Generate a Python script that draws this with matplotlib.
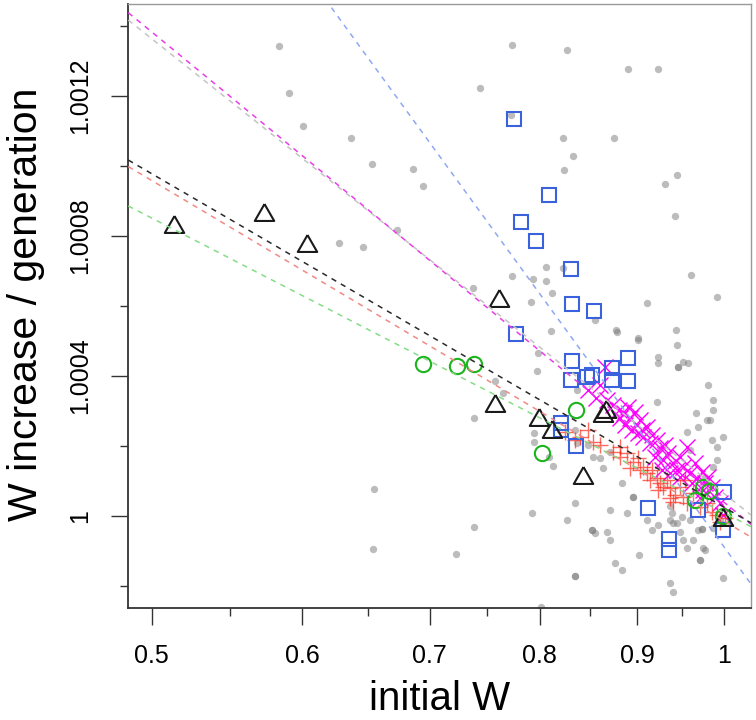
"""Per-generation W increase against initial W, with group fits."""

import numpy as np
import matplotlib

matplotlib.use("Agg")
import matplotlib.pyplot as plt
from matplotlib.ticker import FixedLocator, NullFormatter

plt.rcParams["font.family"] = ["Liberation Sans", "DejaVu Sans"]

# --- data ------------------------------------------------------------------
# background population (grey dots)
gray_w = [0.5834, 0.5905, 0.6004, 0.6365, 0.6532, 0.6864, 0.6943, 0.6732, 0.6273, 0.6458,
          0.7376, 0.7442, 0.7736, 0.8265, 0.8899, 0.9228, 0.7726, 0.8226, 0.8756, 0.8329,
          0.8236, 0.9443, 0.9314, 0.9420, 0.8058, 0.8232, 0.7733, 0.7932, 0.8058, 0.8122,
          0.7913, 0.9608, 0.9912, 0.9113, 0.8557, 0.8110, 0.8774, 0.9435, 0.9014, 0.7980,
          0.7971, 0.7578, 0.7654, 0.7388, 0.7945, 0.7945, 0.8090, 0.8132, 0.8352, 0.7922,
          0.8271, 0.7388, 0.6545, 0.6537, 0.7226, 0.8349, 0.8009, 0.8349, 0.8366, 0.8781,
          0.9014, 0.9443, 0.9235, 0.9235, 0.9462, 0.9519, 0.9577, 0.9812, 0.9217, 0.9871,
          0.9871, 0.9832, 0.9667, 0.9792, 0.9558, 0.9694, 0.9852, 0.9992, 0.9912, 0.9597,
          0.9912, 0.9871, 0.9772, 0.8485, 0.8536, 0.8606, 0.8710, 0.8640, 0.8835, 0.8960,
          0.8889, 0.8710, 0.8520, 0.8554, 0.8675, 0.8710, 0.9107, 0.9161, 0.9235, 0.9367,
          0.9386, 0.9367, 0.9404, 0.9443, 0.9501, 0.9597, 0.9481, 0.9519, 0.9635, 0.9694,
          0.9734, 0.9752, 0.9713, 0.9772, 0.9558, 0.9025, 0.8835, 0.9367, 0.9404, 0.9992,
          0.9871, 0.9952, 0.8763, 0.8366,
          0.8349, 0.9462, 0.8960, 0.8520, 0.9734, 0.9713]
gray_inc = [1.001344, 1.001208, 1.001114, 1.001080, 1.001006, 1.000991, 1.000944, 1.000818,
            1.000781, 1.000769, 1.000651, 1.001223, 1.001345, 1.001331, 1.001276, 1.001276,
            1.001146, 1.001079, 1.001080, 1.001029, 1.000989, 1.000974, 1.000948, 1.000858,
            1.000712, 1.000709, 1.000686, 1.000676, 1.000672, 1.000636, 1.000612, 1.000688,
            1.000625, 1.000609, 1.000560, 1.000529, 1.000531, 1.000531, 1.000508, 1.000465,
            1.000415, 1.000386, 1.000351, 1.000279, 1.000236, 1.000211, 1.000169, 1.000144,
            1.000036, 1.000009, 0.999988, 0.999968, 1.000076, 0.999906, 0.999892, 0.999829,
            0.999740, 1.000246, 1.000208, 1.000527, 1.000503, 1.000489, 1.000455, 1.000436,
            1.000427, 1.000441, 1.000436, 1.000374, 1.000327, 1.000331, 1.000303, 1.000274,
            1.000295, 1.000274, 1.000241, 1.000255, 1.000217, 1.000225, 1.000198, 1.000189,
            1.000160, 1.000141, 1.000112, 1.000203, 1.000169, 1.000165, 1.000184, 1.000136,
            1.000093, 1.000055, 1.000008, 1.000017, 0.999960, 0.999951, 0.999955, 0.999931,
            0.999989, 0.999960, 0.999974, 1.000027, 1.000008, 0.999989, 0.999979, 0.999979,
            0.999998, 0.999989, 0.999955, 0.999931, 0.999931, 0.999960, 0.999962, 0.999908,
            0.999874, 0.999903, 0.999908, 0.999889, 0.999846, 0.999808, 0.999784, 0.999822,
            0.999965, 0.999989, 0.999865, 1.000360,
            0.999829, 1.000427, 1.000055, 0.999960, 0.999962, 0.999874]

# magenta crosses
mag_w = [0.8658, 0.8805, 0.8859, 0.8924, 0.8978, 0.9033, 0.8945, 0.9011, 0.9066, 0.9110,
         0.9143, 0.9220, 0.9254, 0.9310, 0.9198, 0.9287, 0.9344, 0.9401, 0.9481, 0.9447,
         0.9516, 0.9562, 0.9597, 0.9655, 0.9678, 0.9737, 0.9772, 0.9808, 0.9749, 0.9856,
         0.9892, 0.9952, 0.9988, 0.8870, 0.8816, 0.8742, 0.8902, 0.9055, 0.9165, 0.9277,
         0.9367, 0.9481, 0.9620, 0.9713, 0.8480, 0.8565, 0.8606, 0.8679]
mag_inc = [1.000426, 1.000303, 1.000294, 1.000280, 1.000297, 1.000274, 1.000246, 1.000237,
           1.000226, 1.000254, 1.000209, 1.000217, 1.000194, 1.000203, 1.000169, 1.000160,
           1.000180, 1.000151, 1.000169, 1.000131, 1.000140, 1.000197, 1.000123, 1.000151,
           1.000109, 1.000126, 1.000094, 1.000111, 1.000074, 1.000083, 1.000054, 1.000037,
           1.000003, 1.000260, 1.000280, 1.000317, 1.000311, 1.000246, 1.000231, 1.000131,
           1.000123, 1.000111, 1.000094, 1.000051, 1.000360, 1.000337, 1.000374, 1.000331]

# red pluses
red_w = [0.8532, 0.8606, 0.8742, 0.8816, 0.8891, 0.8956, 0.9011, 0.9066, 0.9110, 0.9165,
         0.9220, 0.9254, 0.9287, 0.9231, 0.9333, 0.9367, 0.9424, 0.9401, 0.9481, 0.9516,
         0.9562, 0.9632, 0.9713, 0.9796, 0.9856, 0.9916, 0.9952, 1.0012, 0.8816, 0.9033,
         0.9143, 0.8924, 0.9367, 0.9539, 0.8400, 0.8480, 0.8247, 0.8348]
red_inc = [1.000211, 1.000203, 1.000183, 1.000169, 1.000180, 1.000154, 1.000166, 1.000140,
           1.000123, 1.000131, 1.000109, 1.000094, 1.000083, 1.000074, 1.000103, 1.000080,
           1.000060, 1.000040, 1.000083, 1.000054, 1.000037, 1.000066, 1.000026, 1.000037,
           1.000011, 1.000003, 0.999983, 0.999994, 1.000197, 1.000131, 1.000103, 1.000137,
           1.000051, 1.000103, 1.000226, 1.000246, 1.000240, 1.000217]

# blue squares
blue_w = [0.7755, 0.8090, 0.7818, 0.7964, 0.8309, 0.8319, 0.8540, 0.7773, 0.8316, 0.8305,
          0.8468, 0.8520, 0.8728, 0.8728, 0.8906, 0.8906, 0.8209, 0.8209, 0.8356, 0.9117,
          1.0000, 0.9694, 0.9359, 0.9359, 0.9984]
blue_inc = [1.001134, 1.000916, 1.000841, 1.000787, 1.000705, 1.000605, 1.000586, 1.000519,
            1.000443, 1.000389, 1.000398, 1.000403, 1.000422, 1.000389, 1.000452, 1.000387,
            1.000267, 1.000246, 1.000201, 1.000024, 1.000068, 1.000017, 0.999934, 0.999903,
            0.999960]

# green circles
green_w = [0.6947, 0.7240, 0.7390, 0.8025, 0.8359, 0.9655, 0.9752, 0.9820, 0.9992]
green_inc = [1.000433, 1.000429, 1.000434, 1.000181, 1.000303, 1.000046, 1.000083, 1.000071,
             1.000001]

# black triangles
tri_w = [0.5139, 0.5729, 0.6035, 0.7618, 0.7578, 0.7995, 0.8117, 0.8430, 0.8640, 0.8668,
         0.9992]
tri_inc = [1.000834, 1.000868, 1.000781, 1.000624, 1.000324, 1.000284, 1.000248, 1.000117,
           1.000293, 1.000306, 0.999998]

# fitted lines: increase = intercept + slope * ln(W)
fit_names = ["grey", "magenta", "black", "red", "green", "blue"]
fit_intercept = [1.0000640, 1.0000391, 1.0000249, 0.9999854, 1.0000091, 0.9999114]
fit_slope = [-0.001875, -0.001939, -0.001375, -0.001404, -0.001215, -0.003241]
fit_colors = ["#c4c4c4", "#e83ee8", "#2a2a2a", "#f08a84", "#86dc86", "#8ea8f2"]

x_ticks = [0.5, 0.6, 0.7, 0.8, 0.9, 1.0]
x_tick_labels = ["0.5", "0.6", "0.7", "0.8", "0.9", "1"]
x_minor = [0.55, 0.65, 0.75, 0.85, 0.95]
y_ticks = [1.0, 1.0004, 1.0008, 1.0012]
y_tick_labels = ["1", "1.0004", "1.0008", "1.0012"]
y_minor = [0.9998, 1.0002, 1.0006, 1.0010, 1.0014]

# --- figure ------------------------------------------------------------------
fig = plt.figure(figsize=(7.56, 7.2), dpi=100)
ax = fig.add_axes([0.1697, 0.1551, 0.9934 - 0.1697, 0.9944 - 0.1551])
ax.set_xscale("log")
xlim = (0.4860, 1.0332)
ax.set_xlim(*xlim)
ax.set_ylim(0.999736, 1.0014629)

ax.scatter(gray_w, gray_inc, s=28, color="#7a7a7a", alpha=0.5, linewidths=0, zorder=2)
ax.plot(mag_w, mag_inc, "x", color="#ff00ff", ms=11, mew=1.0, zorder=3)
ax.plot(red_w, red_inc, "+", color="#ff2a1a", alpha=0.7, ms=12, mew=1.0, zorder=4)
ax.plot(blue_w, blue_inc, "s", mfc="none", mec="#3a62dc", ms=10, mew=1.5, zorder=5)
ax.plot(green_w, green_inc, "o", mfc="none", mec="#1cb41c", ms=11, mew=1.5, zorder=5)
tri = [(0, 1), (-1.15, -1), (1.15, -1), (0, 1)]
ax.plot(tri_w, tri_inc, linestyle="none", marker=tri, mfc="none", mec="#1a1a1a",
        ms=14, mew=1.5, zorder=6)

xs = np.geomspace(xlim[0], xlim[1], 50)
for a, b, c in zip(fit_intercept, fit_slope, fit_colors):
    ax.plot(xs, a + b * np.log(xs), linestyle=(0, (3.5, 3.5)), color=c, lw=1.1, zorder=7)

ax.set_xticks(x_ticks, labels=x_tick_labels)
ax.xaxis.set_minor_locator(FixedLocator(x_minor))
ax.xaxis.set_minor_formatter(NullFormatter())
ax.set_yticks(y_ticks, labels=y_tick_labels)
ax.yaxis.set_minor_locator(FixedLocator(y_minor))

ax.tick_params(which="major", direction="out", length=12, width=1, color="#333333",
               labelsize=18, pad=14)
ax.tick_params(which="minor", direction="out", length=6, width=1, color="#333333")
ax.tick_params(axis="y", labelrotation=90)
for lab in ax.get_yticklabels():
    lab.set_va("center")

for side in ("left", "bottom"):
    ax.spines[side].set_color("#333333")
    ax.spines[side].set_linewidth(1.3)
for side in ("top", "right"):
    ax.spines[side].set_color("#9a9a9a")
    ax.spines[side].set_linewidth(1.0)

fig.text(440 / 756, 10 / 720, "initial W", fontsize=29, ha="center", va="baseline")
fig.text(37 / 756, 1 - 304 / 720, "W increase / generation", fontsize=29.5, rotation=90,
         rotation_mode="anchor", ha="center", va="baseline")

fig.savefig("out.png", dpi=100)
